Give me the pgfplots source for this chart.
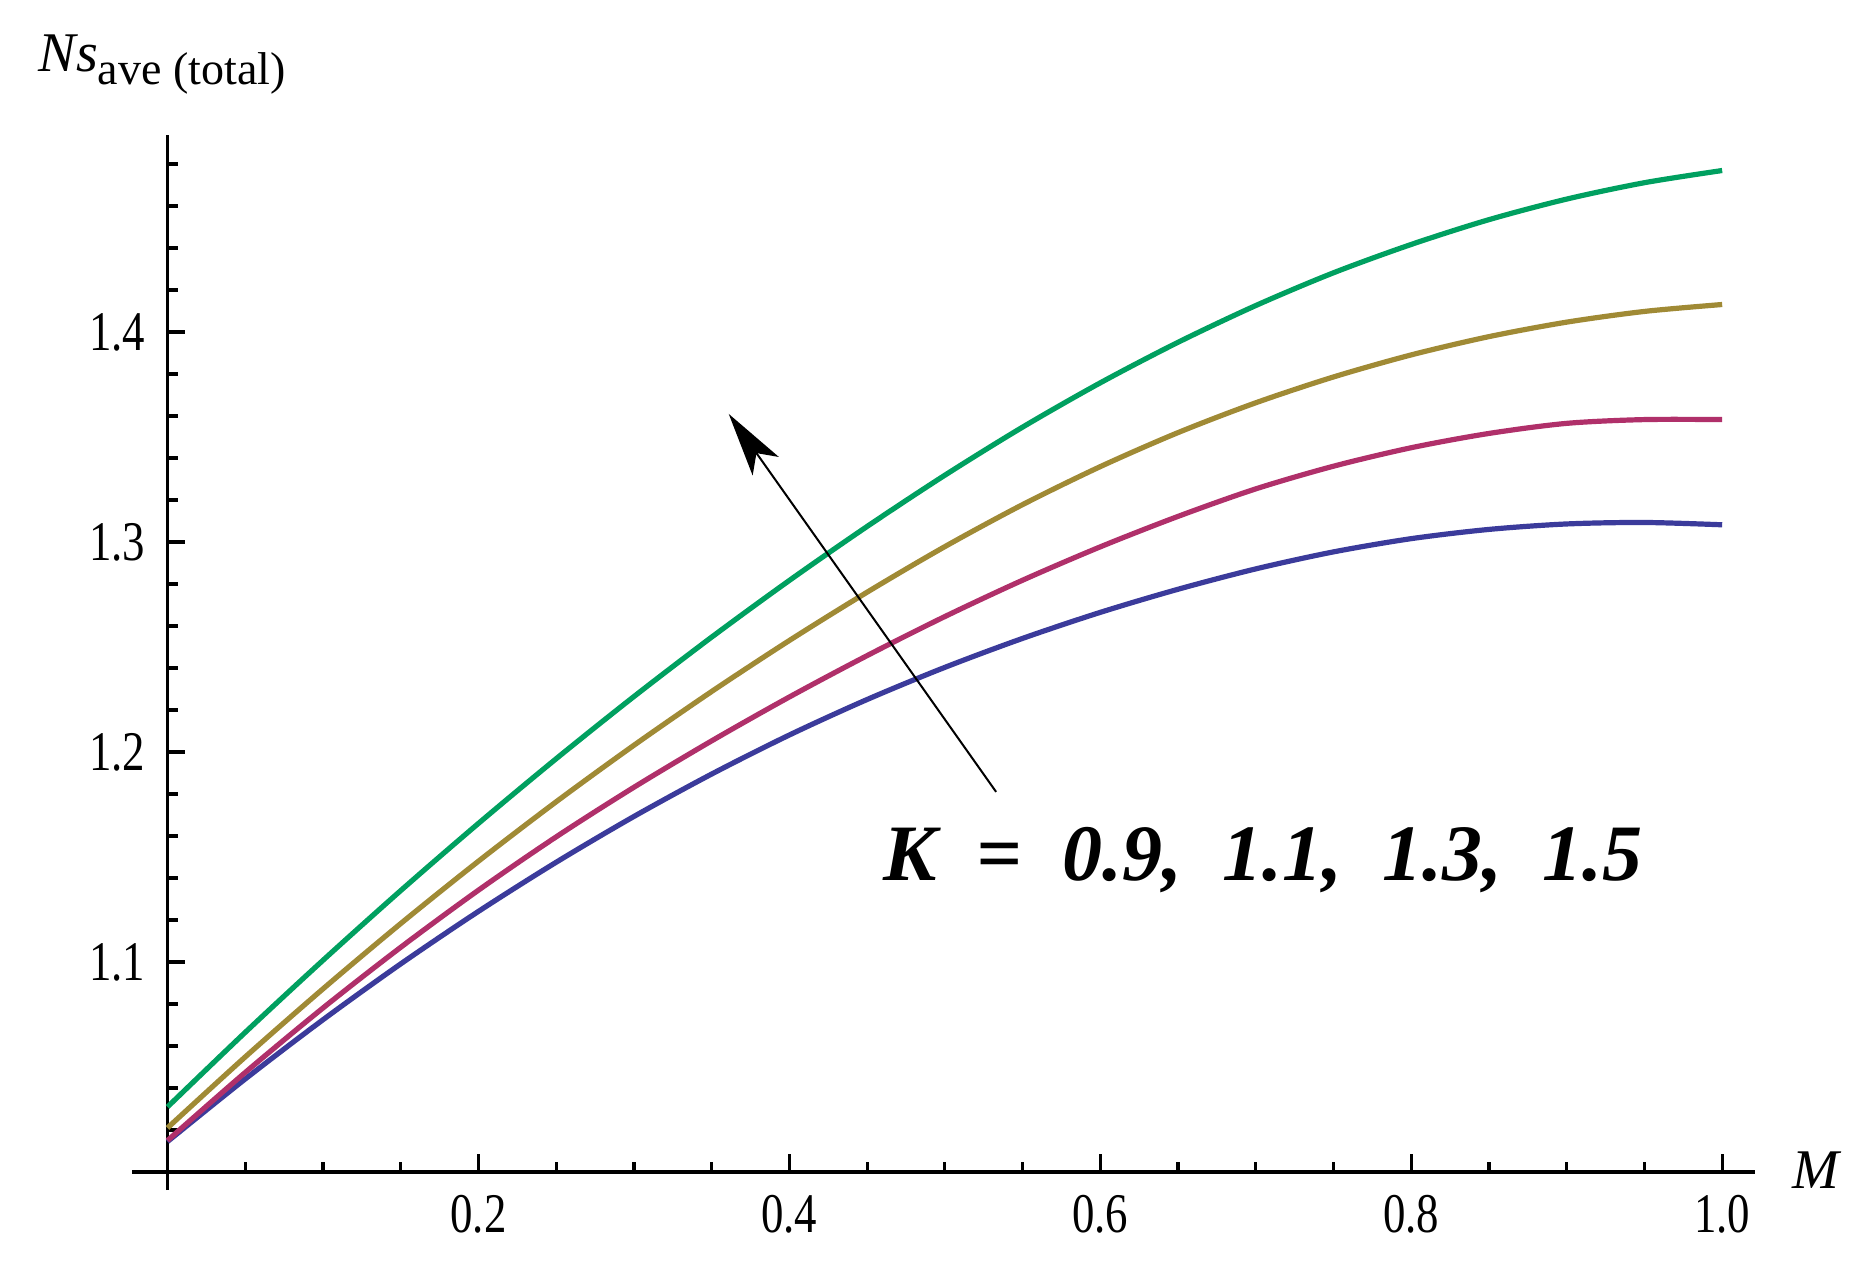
\documentclass[border=0pt]{standalone}
\usepackage{fontspec}
\setmainfont{Liberation Serif}
\usepackage{graphicx}
\usepackage{pgfplots}
\pgfplotsset{compat=1.18}
\usetikzlibrary{arrows.meta}
\definecolor{cblue}{HTML}{3B3B9B}
\definecolor{cred}{HTML}{B0306A}
\definecolor{cyel}{HTML}{A08A35}
\definecolor{cgreen}{HTML}{00A060}
\newcommand{\tl}[1]{\scalebox{0.8}[1]{#1}}
\begin{document}
\begin{tikzpicture}
\useasboundingbox (0,0) rectangle (468pt,316.5pt);
\begin{axis}[
  at={(41.875pt,23.5pt)}, anchor=south west,
  scale only axis, width=396.9pt, height=259.35pt,
  xmin=0, xmax=1.0212, ymin=1.0, ymax=1.494,
  axis lines=left, axis line style={line width=0.9pt, -},
  xtick={0.2,0.4,0.6,0.8,1.0},
  xticklabels={\tl{0.2},\tl{0.4},\tl{0.6},\tl{0.8},\tl{1.0}},
  minor xtick={0.05,0.1,0.15,0.25,0.3,0.35,0.45,0.5,0.55,0.65,0.7,0.75,0.85,0.9,0.95},
  ytick={1.1,1.2,1.3,1.4},
  yticklabels={\tl{1.1},\tl{1.2},\tl{1.3},\tl{1.4}},
  minor ytick={1.02,1.04,1.06,1.08,1.12,1.14,1.16,1.18,1.22,1.24,1.26,1.28,1.32,1.34,1.36,1.38,1.42,1.44,1.46,1.48},
  tick align=inside,
  major tick length=4.5pt, minor tick length=2.5pt,
  tick style={line width=0.8pt, black},
  xticklabel style={font=\fontsize{14}{14}\selectfont, anchor=north, inner sep=0pt, yshift=-5.5pt},
  yticklabel style={font=\fontsize{14}{14}\selectfont, anchor=east, inner sep=0pt, xshift=-5.4pt},
  clip=false,
]
\addplot[cblue, line width=1.3pt, smooth] coordinates {
(0,1.0145)(0.05,1.0443)(0.1,1.0725)(0.15,1.0991)(0.2,1.1241)(0.25,1.1475)(0.3,1.1693)(0.35,1.1895)(0.4,1.2081)(0.45,1.2250)(0.5,1.2403)(0.55,1.2541)(0.6,1.2665)(0.65,1.2775)(0.7,1.2872)(0.75,1.2953)(0.8,1.3016)(0.85,1.3060)(0.9,1.3086)(0.95,1.3093)(1.0,1.3082)};
\addplot[cred, line width=1.3pt, smooth] coordinates {
(0,1.015)(0.05,1.0474)(0.1,1.0781)(0.15,1.1070)(0.2,1.1342)(0.25,1.1596)(0.3,1.1832)(0.35,1.2053)(0.4,1.2262)(0.45,1.2459)(0.5,1.2645)(0.55,1.2818)(0.6,1.2977)(0.65,1.3122)(0.7,1.3253)(0.75,1.3361)(0.8,1.3449)(0.85,1.3517)(0.9,1.3565)(0.95,1.3583)(1.0,1.3583)};
\addplot[cyel, line width=1.3pt, smooth] coordinates {
(0,1.021)(0.05,1.0548)(0.1,1.0872)(0.15,1.1183)(0.2,1.1480)(0.25,1.1763)(0.3,1.2032)(0.35,1.2288)(0.4,1.2531)(0.45,1.2761)(0.5,1.2978)(0.55,1.3178)(0.6,1.3359)(0.65,1.3521)(0.7,1.3663)(0.75,1.3786)(0.8,1.3891)(0.85,1.3978)(0.9,1.4047)(0.95,1.4098)(1.0,1.4131)};
\addplot[cgreen, line width=1.3pt, smooth] coordinates {
(0,1.031)(0.05,1.0665)(0.1,1.1008)(0.15,1.1340)(0.2,1.1660)(0.25,1.1968)(0.3,1.2264)(0.35,1.2547)(0.4,1.2817)(0.45,1.3074)(0.5,1.3318)(0.55,1.3547)(0.6,1.3758)(0.65,1.3951)(0.7,1.4126)(0.75,1.4282)(0.8,1.4417)(0.85,1.4535)(0.9,1.4633)(0.95,1.4711)(1.0,1.4769)};
\draw[line width=0.9pt] (axis cs:-0.0228,1) -- (axis cs:0,1);
\draw[line width=0.9pt] (axis cs:0,0.9914) -- (axis cs:0,1);
\draw[line width=0.5pt, -{Stealth[length=16pt,width=8pt,inset=4pt]}] (axis cs:0.533,1.181) -- (axis cs:0.361,1.361);
\node[anchor=base west, inner sep=0pt, font=\fontsize{20}{20}\selectfont\bfseries\itshape] at (axis cs:0.460,1.1386) {K\hspace{10pt}=\hspace{10pt}0.9,\hspace{10pt}1.1,\hspace{10pt}1.3,\hspace{10pt}1.5};
\end{axis}
\node[anchor=base west, inner sep=0pt] at (9.5pt,298.5pt) {{\fontsize{14}{14}\selectfont\itshape Ns}\raisebox{-3.2pt}{\fontsize{11.5}{11.5}\selectfont ave (total)}};
\node[anchor=base west, inner sep=0pt] at (448pt,19.5pt) {\fontsize{14}{14}\selectfont\itshape M};
\end{tikzpicture}
\end{document}
